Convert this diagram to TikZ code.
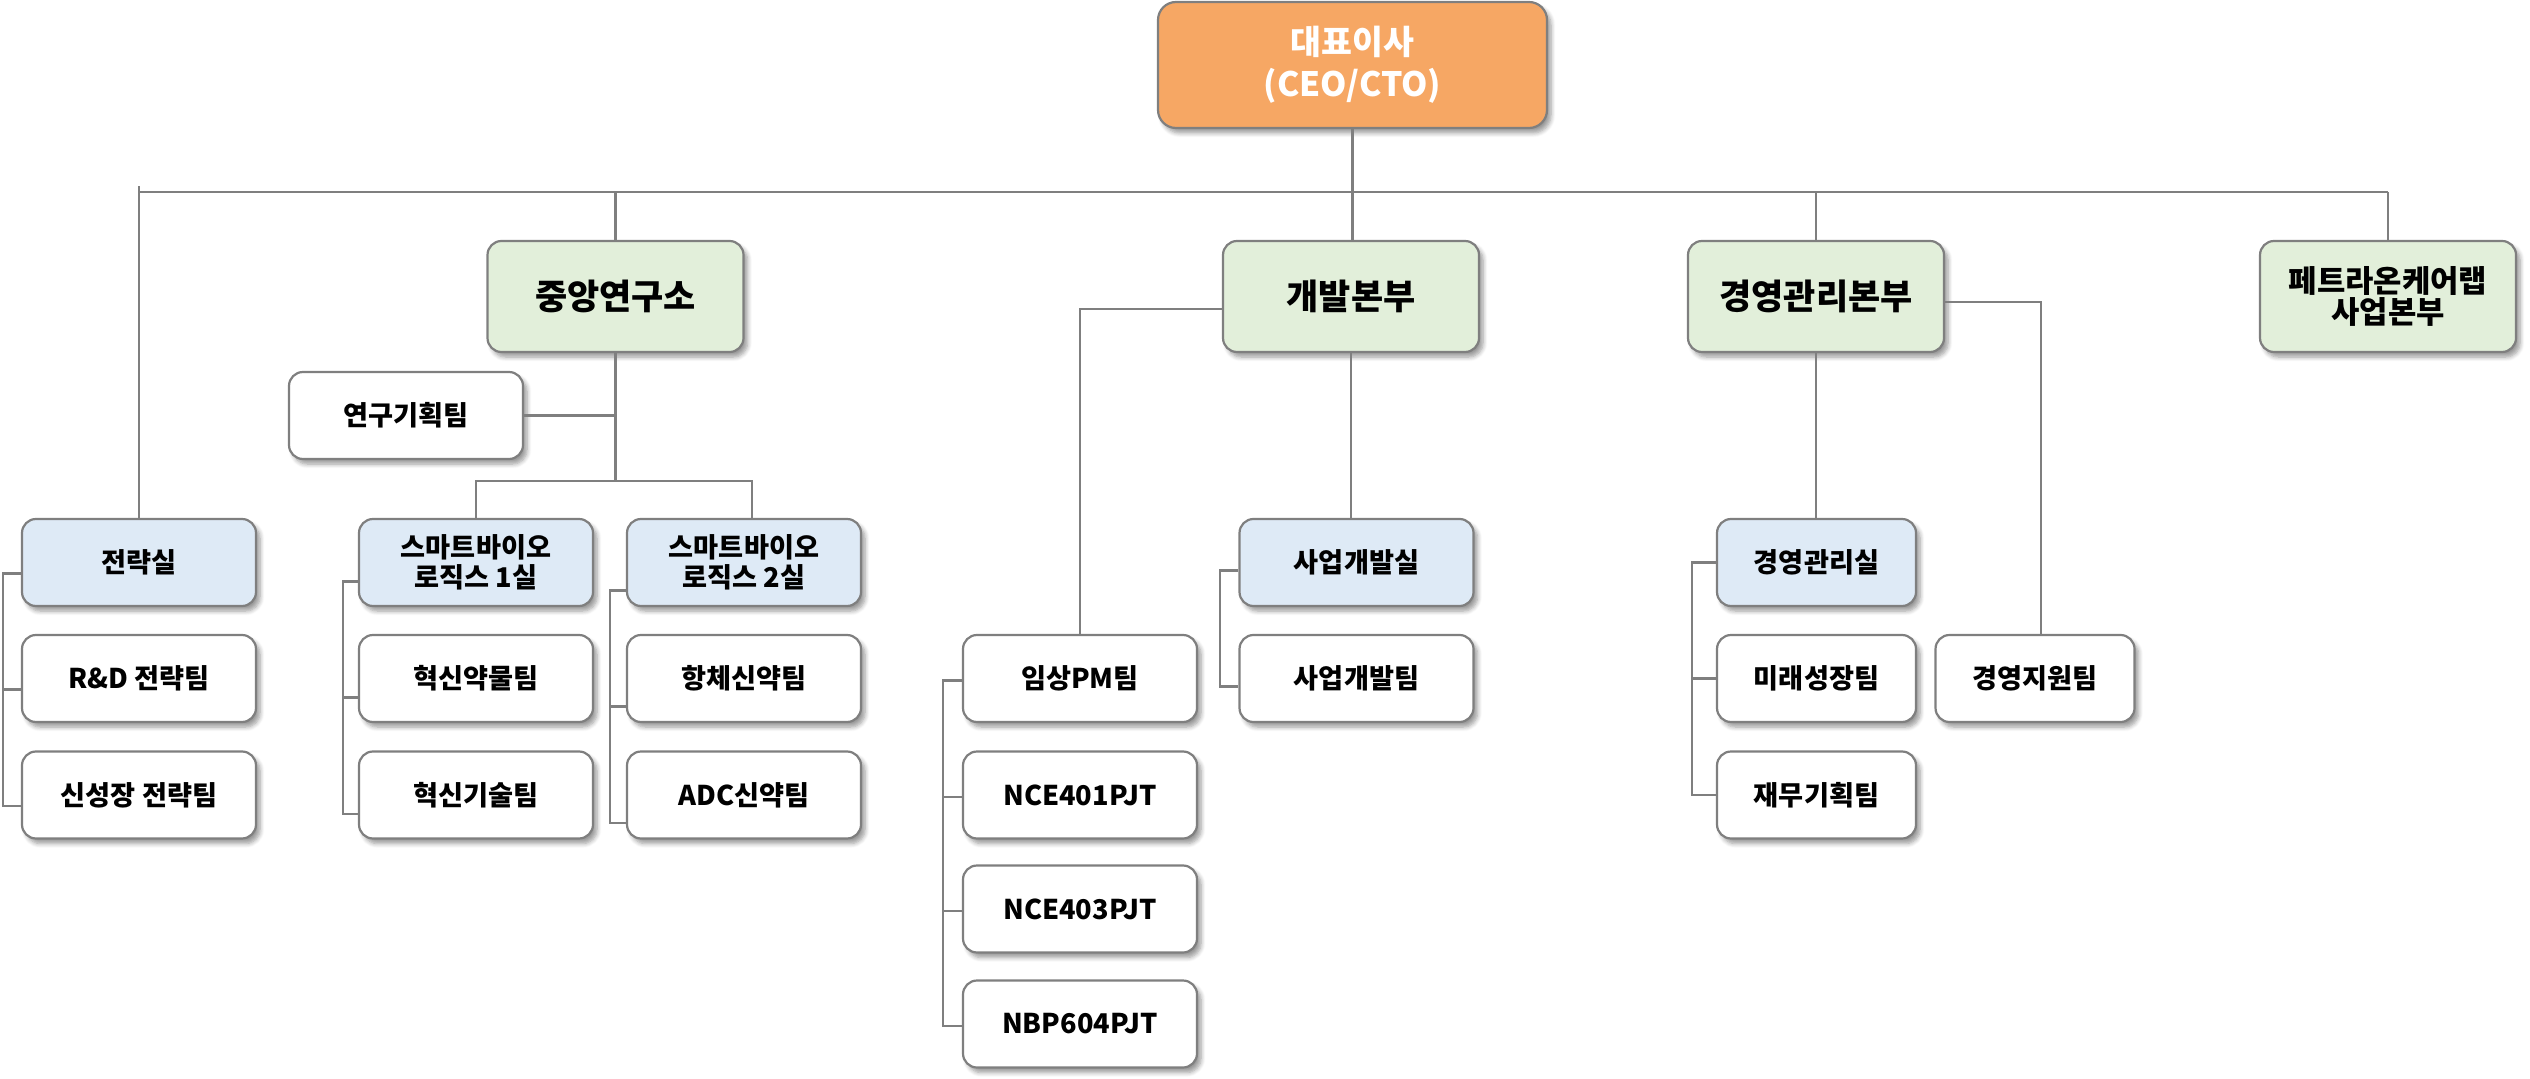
\documentclass[tikz,border=0pt]{standalone}
\usepackage{fontspec}
\setmainfont{Noto Sans CJK KR}
\usetikzlibrary{shadows.blur}
\definecolor{ceofill}{HTML}{F6A764}
\definecolor{grfill}{HTML}{E2EFDA}
\definecolor{blfill}{HTML}{DEEAF6}
\definecolor{edgegray}{HTML}{7F7F7F}
\begin{document}
\begin{tikzpicture}[x=0.5pt,y=-0.5pt,
  box/.style={draw=edgegray, line width=1.1pt, rounded corners=7pt, align=center, inner sep=0pt, text=black,
    blur shadow={shadow xshift=2pt, shadow yshift=-2.5pt, shadow blur steps=6, shadow opacity=40}},
  ceobox/.style={box, fill=ceofill, text=white, rounded corners=9pt, minimum width=194.5pt, minimum height=63pt,
    font=\fontsize{16.8}{21}\selectfont\bfseries},
  hqbox/.style={box, fill=grfill, minimum width=128pt, minimum height=55.5pt,
    font=\fontsize{17.5}{20}\selectfont\bfseries},
  hqtwo/.style={hqbox, font=\fontsize{15.4}{15.5}\selectfont\bfseries},
  deptbox/.style={box, fill=blfill, minimum width=117pt, minimum height=43.5pt,
    font=\fontsize{13.6}{15}\selectfont\bfseries},
  teambox/.style={deptbox, fill=white},
  narrow/.style={minimum width=99.5pt},
  conn/.style={draw=edgegray, line width=1.35pt}
]
\useasboundingbox (0,0) rectangle (2530,1079);

% top
\node[ceobox] (ceo) at (1352.5,65) {대표이사\\(CEO/CTO)};

% level 2
\node[hqbox] (cr) at (615.5,296.5) {중앙연구소};
\node[hqbox] (dv) at (1351,296.5) {개발본부};
\node[hqbox] (mg) at (1816,296.5) {경영관리본부};
\node[hqtwo] (pt) at (2388,296.5) {페트라온케어랩\\사업본부};

% central research
\node[teambox] (rp) at (406,415.5) {연구기획팀};

% strategy
\node[deptbox] (jr) at (139,562.5) {전략실};
\node[teambox] (rd) at (139,678.5) {R\&D 전략팀};
\node[teambox] (ns) at (139,795) {신성장 전략팀};

% smart bio 1
\node[deptbox] (sa) at (476,562.5) {스마트바이오\\로직스 1실};
\node[teambox] (saa) at (476,678.5) {혁신약물팀};
\node[teambox] (sab) at (476,795) {혁신기술팀};

% smart bio 2
\node[deptbox] (sb) at (744,562.5) {스마트바이오\\로직스 2실};
\node[teambox] (sba) at (744,678.5) {항체신약팀};
\node[teambox] (sbb) at (744,795) {ADC신약팀};

% development
\node[teambox] (pm) at (1080,678.5) {임상PM팀};
\node[teambox] (na) at (1080,795) {NCE401PJT};
\node[teambox] (nb) at (1080,909) {NCE403PJT};
\node[teambox] (nc) at (1080,1024) {NBP604PJT};
\node[deptbox] (bd) at (1356.5,562.5) {사업개발실};
\node[teambox] (bt) at (1356.5,678.5) {사업개발팀};

% management
\node[deptbox, narrow] (ms) at (1816.5,562.5) {경영관리실};
\node[teambox, narrow] (fg) at (1816.5,678.5) {미래성장팀};
\node[teambox, narrow] (fp) at (1816.5,795) {재무기획팀};
\node[teambox, narrow] (sp) at (2035,678.5) {경영지원팀};

% bus
\coordinate (busL) at (138,192);
\coordinate (busR) at (2388,192);
\coordinate (busTop) at (138,186);
\draw[conn] (busL) -- (busR);
\draw[conn] (ceo.south) -- (ceo.south |- dv.north);
\draw[conn] (jr.north) -- (jr.north |- busTop);
\draw[conn] (cr.north) -- (cr.north |- busL);
\draw[conn] (mg.north) -- (mg.north |- busL);
\draw[conn] (pt.north) -- (pt.north |- busL);

% central research internals
\coordinate (br) at (615.5,481);
\coordinate (sbtop) at ([xshift=4pt]sb.north);
\draw[conn] (cr.south) -- (cr.south |- br);
\draw[conn] (rp.east) -- (rp.east -| cr.south);
\draw[conn] (sa.north) |- (sbtop |- br) -- (sbtop);

% development internals
\coordinate (dvw) at ([yshift=-6.25pt]dv.west);
\draw[conn] (dvw) -| (pm.north);
\draw[conn] (dv.south) -- (dv.south |- bd.north);

% management internals
\coordinate (mge) at ([yshift=-2.75pt]mg.east);
\coordinate (sptop) at ([xshift=3pt]sp.north);
\draw[conn] (mg.south) -- (mg.south |- ms.north);
\draw[conn] (mge) -| (sptop);

% brackets
\coordinate (bxa) at (3,0);
\coordinate (bxb) at (343,0);
\coordinate (bxc) at (610,0);
\coordinate (bxd) at (943,0);
\coordinate (bxe) at (1220,0);
\coordinate (bxf) at (1692,0);

\foreach \n in {jr,rd,ns} \coordinate (\n T) at ([yshift=-5.5pt]\n.west);
\draw[conn] (jrT) -- (jrT -| bxa) -- (nsT -| bxa) -- (nsT);
\draw[conn] (rdT) -- (rdT -| bxa);

\foreach \n in {sa,saa,sab} \coordinate (\n T) at ([yshift=-9.5pt]\n.west);
\draw[conn] (saT) -- (saT -| bxb) -- (sabT -| bxb) -- (sabT);
\draw[conn] (saaT) -- (saaT -| bxb);

\foreach \n in {sb,sba,sbb} \coordinate (\n T) at ([yshift=-14pt]\n.west);
\draw[conn] (sbT) -- (sbT -| bxc) -- (sbbT -| bxc) -- (sbbT);
\draw[conn] (sbaT) -- (sbaT -| bxc);

\foreach \n in {pm,na,nb,nc} \coordinate (\n T) at ([yshift=-1pt]\n.west);
\draw[conn] (pmT) -- (pmT -| bxd) -- (ncT -| bxd) -- (ncT);
\draw[conn] (naT) -- (naT -| bxd);
\draw[conn] (nbT) -- (nbT -| bxd);

\foreach \n in {bd,bt} \coordinate (\n T) at ([yshift=-4pt]\n.west);
\draw[conn] (bdT) -- (bdT -| bxe) -- (btT -| bxe) -- (btT);

\draw[conn] (ms.west) -- (ms.west -| bxf) -- (fp.west -| bxf) -- (fp.west);
\draw[conn] (fg.west) -- (fg.west -| bxf);
\end{tikzpicture}
\end{document}
